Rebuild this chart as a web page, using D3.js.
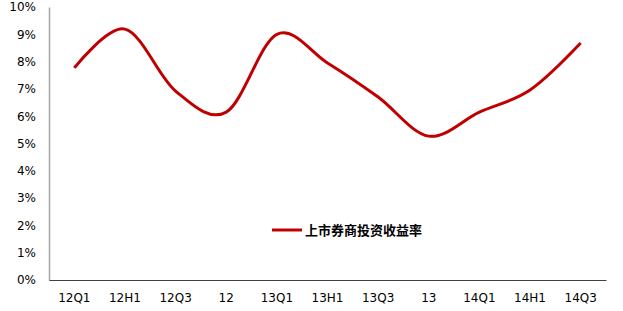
<!DOCTYPE html>
<html>
<head>
<meta charset="utf-8">
<script src="https://cdn.jsdelivr.net/npm/d3@7.9.0/dist/d3.min.js"></script>
<style>
  body { margin: 0; background: #fff; }
  svg { display: block; }
</style>
</head>
<body>
<svg id="chart" width="623" height="311"></svg>
<script>
// categories and values (percent)
const periods = ["12Q1", "12H1", "12Q3", "12", "13Q1", "13H1", "13Q3", "13", "14Q1", "14H1", "14Q3"];
const returns = [7.77, 9.19, 6.92, 6.15, 9.0, 7.95, 6.7, 5.27, 6.15, 6.96, 8.68];
const yTicks = [0, 1, 2, 3, 4, 5, 6, 7, 8, 9, 10];
const seriesName = "上市券商投资收益率";

const margin = { left: 49, right: 17, top: 7, bottom: 31 };
const width = 623, height = 311;

const svg = d3.select("#chart");

const x = d3.scaleBand()
    .domain(periods)
    .range([margin.left, width - margin.right]);

const y = d3.scaleLinear()
    .domain([0, 10])
    .range([height - margin.bottom, margin.top]);

// y axis labels
const yAxis = svg.append("g")
    .attr("transform", `translate(${margin.left},0)`)
    .call(d3.axisLeft(y).tickValues(yTicks).tickFormat(d => d + "%").tickSize(0).tickPadding(13));
yAxis.select(".domain").attr("stroke", "#a6a6a6").attr("stroke-width", 1.5);
yAxis.selectAll("text")
    .attr("font-family", "DejaVu Sans, sans-serif")
    .attr("font-size", 12)
    .attr("fill", "#000");

// x axis labels
const xAxis = svg.append("g")
    .attr("transform", `translate(0,${y(0)})`)
    .call(d3.axisBottom(x).tickSize(0).tickPadding(13));
xAxis.select(".domain").attr("stroke", "#404040").attr("stroke-width", 1.2);
xAxis.selectAll("text")
    .attr("font-family", "DejaVu Sans, sans-serif")
    .attr("font-size", 12)
    .attr("fill", "#000");

// smoothed line
const line = d3.line()
    .x((d, i) => x(periods[i]) + x.bandwidth() / 2)
    .y(d => y(d))
    .curve(d3.curveCardinal.tension(0));

svg.append("path")
    .datum(returns)
    .attr("d", line)
    .attr("fill", "none")
    .attr("stroke", "#c00000")
    .attr("stroke-width", 3)
    .attr("stroke-linecap", "butt");

// legend
const legend = svg.append("g").attr("transform", "translate(272,230)");
legend.append("line")
    .attr("x1", 0).attr("x2", 30)
    .attr("y1", 0).attr("y2", 0)
    .attr("stroke", "#c00000")
    .attr("stroke-width", 3);
legend.append("text")
    .attr("x", 33)
    .attr("y", 0)
    .attr("dy", "0.35em")
    .attr("font-family", "Noto Sans CJK SC, sans-serif")
    .attr("font-size", 13)
    .attr("font-weight", "bold")
    .attr("fill", "#000")
    .text(seriesName);
</script>
</body>
</html>
